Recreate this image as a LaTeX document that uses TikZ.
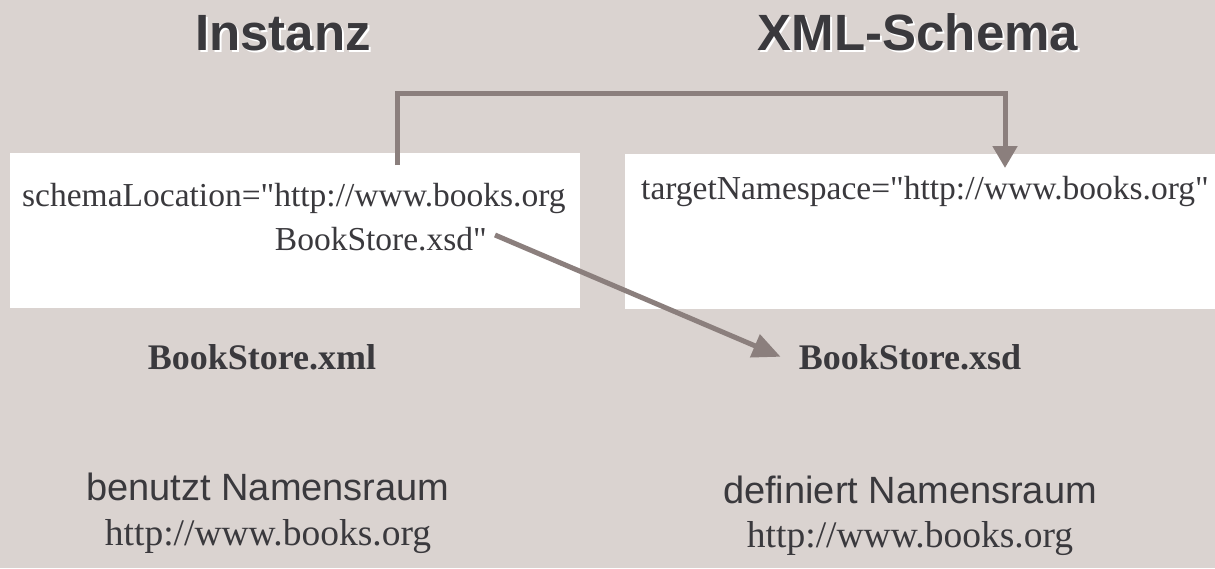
\documentclass[tikz,border=0pt]{standalone}
\usepackage{fontspec}
\setmainfont{Liberation Serif}[Ligatures=TeXOff]
\setsansfont{Liberation Sans}[Ligatures=TeXOff]
\usetikzlibrary{positioning}
\usetikzlibrary{arrows.meta}
\definecolor{hgrund}{HTML}{DAD3D0}
\definecolor{schrift}{HTML}{3A393D}
\definecolor{pfeil}{HTML}{8B7F7D}

\begin{document}
\begin{tikzpicture}[x=1pt,y=-1pt,
	titel/.style={font=\sffamily\bfseries\fontsize{51}{60}\selectfont, text=schrift, inner sep=0pt, anchor=base},
	titelschatten/.style={titel, text=white},
	kasten/.style={fill=white, draw=none, minimum width=570pt, minimum height=155pt, inner sep=0pt},
	boxtext/.style={font=\fontsize{33.5}{40}\selectfont, text=schrift, inner sep=0pt},
	fettlabel/.style={font=\bfseries\fontsize{36}{42}\selectfont, text=schrift, inner sep=0pt, anchor=base},
	unten/.style={font=\sffamily\fontsize{38}{46}\selectfont, text=schrift, inner sep=0pt, anchor=base},
	urlstil/.style={font=\fontsize{37.5}{45}\selectfont, text=schrift, inner sep=0pt, anchor=base},
	pfeilstil/.style={draw=pfeil, line width=5pt}]
	% Background
	\fill [hgrund] (0,0) rectangle (1215,568);
	\useasboundingbox (0,0) rectangle (1215,568);
	
	% Titles
	\node [titelschatten] at (285,52) (instschatten) {Instanz};
	\node [titel] at (283,50) (instanz) {Instanz};
	\node [titelschatten] at (920,52) (xsdschatten) {XML-Schema};
	\node [titel] at (918,50) (xmlschema) {XML-Schema};
	
	% Boxes
	\node [kasten] at (295,230.5) (instbox) {};
	\node [kasten, minimum width=590pt] at (920,231) (schemabox) {};
	\node [boxtext, anchor=base west] at (22,206) (schemaloc) {schemaLocation="http://www.books.org};
	\node [boxtext, anchor=base east] at (487,250) (xsdref) {BookStore.xsd"};
	\node [boxtext, anchor=base west] at (641,199) (targetns) {targetNamespace="http://www.books.org"};
	
	% File names
	\node [fettlabel] at (262,369) (xmlname) {BookStore.xml};
	\node [fettlabel] at (910,369) (xsdname) {BookStore.xsd};
	
	% Namespaces
	\node [unten] at (268,500) (benutzt) {benutzt Namensraum};
	\node [urlstil] at (268,545) (urllinks) {http://www.books.org};
	\node [unten] at (910,503) (definiert) {definiert Namensraum};
	\node [urlstil] at (910,547) (urlrechts) {http://www.books.org};
	
	% Connections
	\coordinate (startoben) at (397,165);
	\coordinate (zieloben) at (1005,168);
	\coordinate [above right=15pt and 8pt of xsdref.base east] (xsdstart);
	\coordinate [left=18pt of xsdname.west] (xsdziel);
	\draw [pfeilstil, -{Triangle[length=22pt,width=24pt]}] (startoben) -- ++(0,-72) -| (zieloben);
	\draw [pfeilstil, -{Triangle[length=28pt,width=24pt]}] (xsdstart) -- (xsdziel);
\end{tikzpicture}
\end{document}
